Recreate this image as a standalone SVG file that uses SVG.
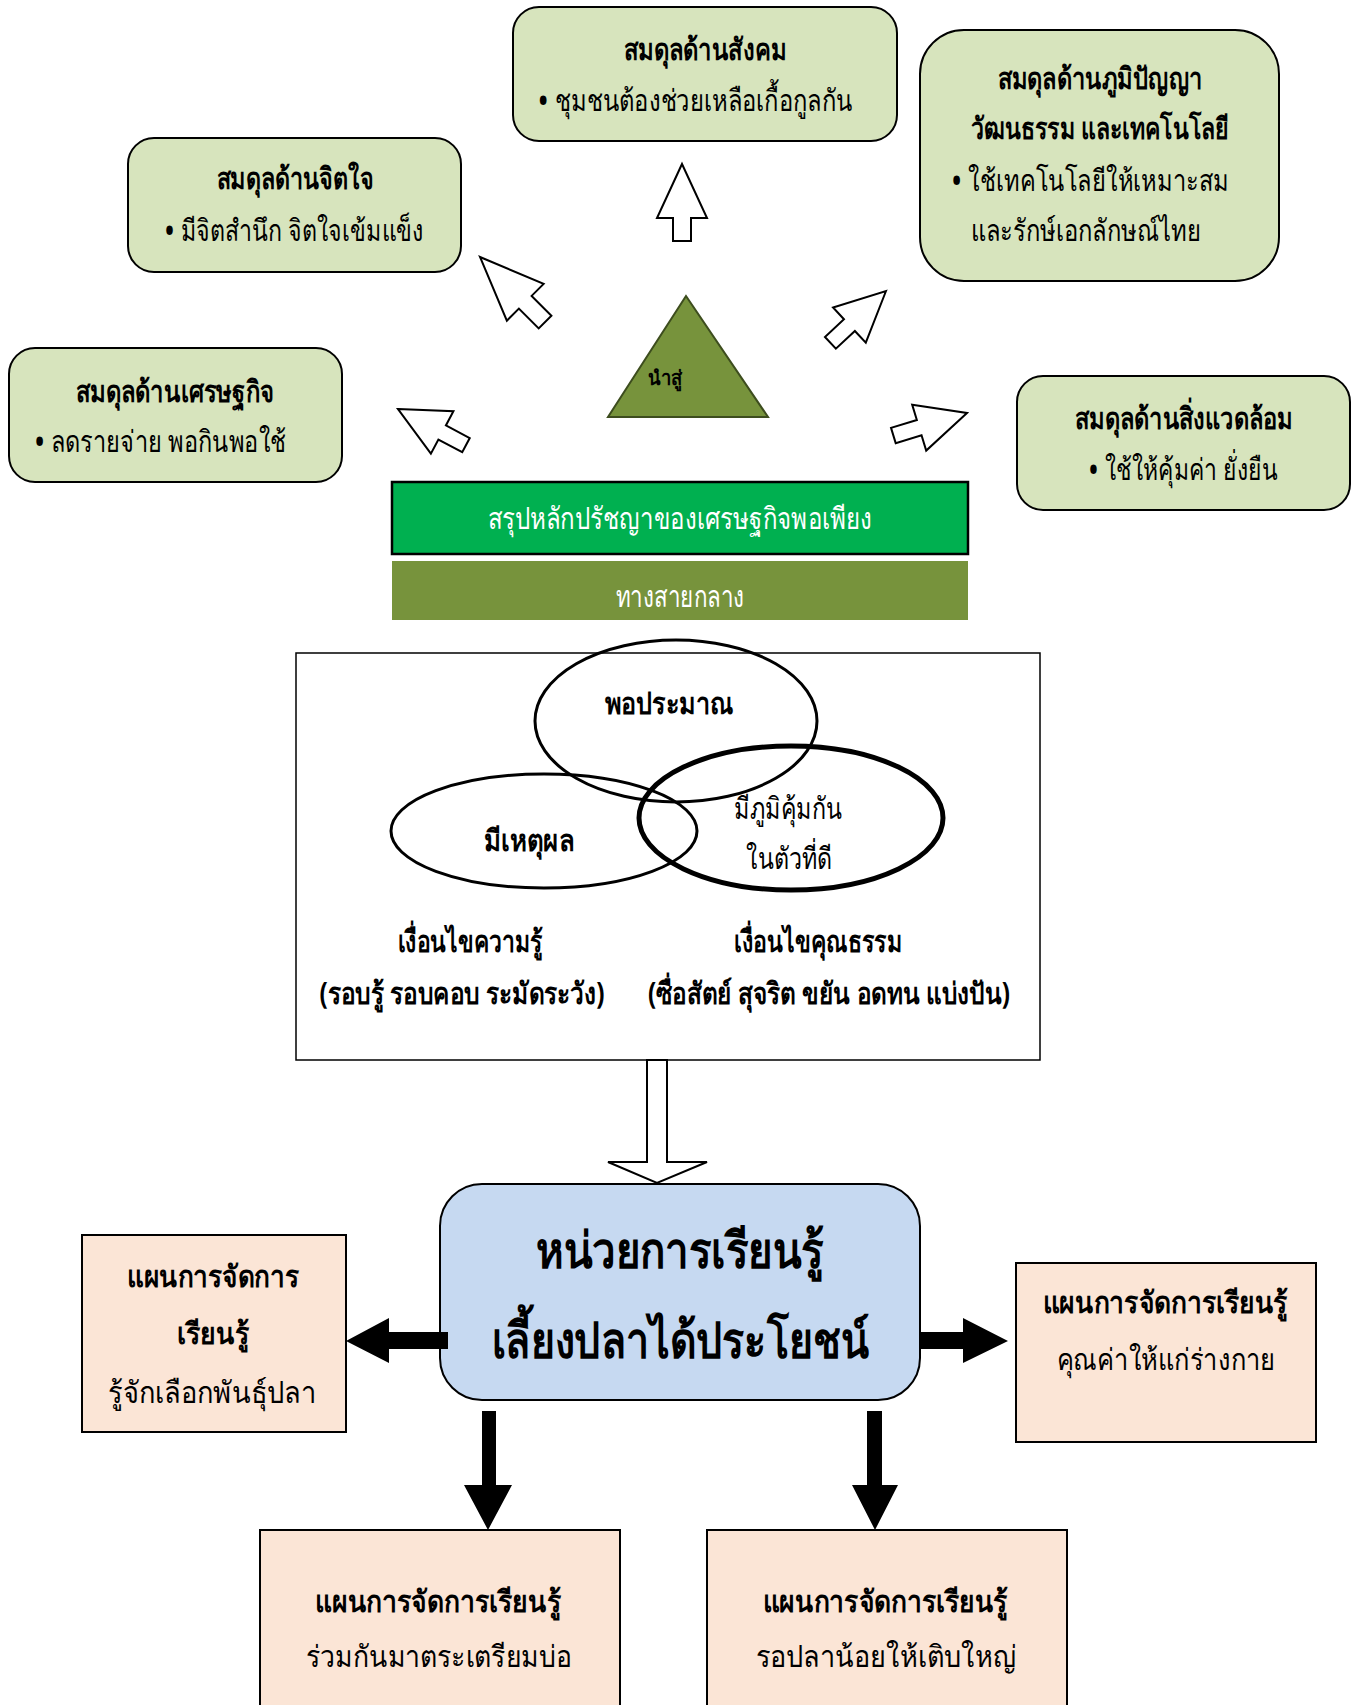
<svg xmlns="http://www.w3.org/2000/svg" width="1354" height="1705" viewBox="0 0 1354 1705">
<style>
text{font-family:'Noto Sans','DejaVu Sans',sans-serif;fill:#000;}
.t{font-size:30px;text-anchor:middle;}
.b{font-weight:bold;}
.w{fill:#fff;}
.bu{font-size:38px;}
.gbox{fill:#d7e4bd;stroke:#000;stroke-width:2;}
.pbox{fill:#fbe5d6;stroke:#000;stroke-width:2;}
.hol{fill:#fff;stroke:#000;stroke-width:2;stroke-linejoin:miter;}
.blk{fill:#000;stroke:none;}
.ell{fill:none;stroke:#000;stroke-width:3;}
</style>
<rect width="1354" height="1705" fill="#fff"/>

<g id="node-social">
<rect class="gbox" x="513" y="7" width="384" height="134" rx="26"/>
<text class="t b" x="705" y="60" textLength="163" lengthAdjust="spacingAndGlyphs">สมดุลด้านสังคม</text>
<text class="t" x="695" y="111" textLength="315" lengthAdjust="spacingAndGlyphs"><tspan class="bu" dy="3">•</tspan><tspan dy="-3"> ชุมชนต้องช่วยเหลือเกื้อกูลกัน</tspan></text>
</g>

<g id="node-wisdom">
<rect class="gbox" x="920" y="30" width="359" height="251" rx="44"/>
<text class="t b" x="1100" y="89" textLength="205" lengthAdjust="spacingAndGlyphs">สมดุลด้านภูมิปัญญา</text>
<text class="t b" x="1100" y="139" textLength="258" lengthAdjust="spacingAndGlyphs">วัฒนธรรม และเทคโนโลยี</text>
<text class="t" x="1090" y="191" textLength="278" lengthAdjust="spacingAndGlyphs"><tspan class="bu" dy="3">•</tspan><tspan dy="-3"> ใช้เทคโนโลยีให้เหมาะสม</tspan></text>
<text style="font-size:30px" x="971" y="241" textLength="230" lengthAdjust="spacingAndGlyphs">และรักษ์เอกลักษณ์ไทย</text>
</g>

<g id="node-mind">
<rect class="gbox" x="128" y="138" width="333" height="134" rx="26"/>
<text class="t b" x="295" y="189" textLength="157" lengthAdjust="spacingAndGlyphs">สมดุลด้านจิตใจ</text>
<text class="t" x="294" y="241" textLength="260" lengthAdjust="spacingAndGlyphs"><tspan class="bu" dy="3">•</tspan><tspan dy="-3"> มีจิตสำนึก จิตใจเข้มแข็ง</tspan></text>
</g>

<g id="node-economy">
<rect class="gbox" x="9" y="348" width="333" height="134" rx="26"/>
<text class="t b" x="175" y="402" textLength="199" lengthAdjust="spacingAndGlyphs">สมดุลด้านเศรษฐกิจ</text>
<text class="t" x="160" y="452" textLength="252" lengthAdjust="spacingAndGlyphs"><tspan class="bu" dy="3">•</tspan><tspan dy="-3"> ลดรายจ่าย พอกินพอใช้</tspan></text>
</g>

<g id="node-environment">
<rect class="gbox" x="1017" y="376" width="333" height="134" rx="26"/>
<text class="t b" x="1184" y="429" textLength="218" lengthAdjust="spacingAndGlyphs">สมดุลด้านสิ่งแวดล้อม</text>
<text class="t" x="1183" y="480" textLength="190" lengthAdjust="spacingAndGlyphs"><tspan class="bu" dy="3">•</tspan><tspan dy="-3"> ใช้ให้คุ้มค่า ยั่งยืน</tspan></text>
</g>

<g id="node-leadsto">
<polygon points="686,296 608,417 768,417" fill="#77933c" stroke="#3d4d1e" stroke-width="2"/>
<text class="b" style="font-size:20px;text-anchor:middle" x="665" y="385" textLength="34" lengthAdjust="spacingAndGlyphs">นำสู่</text>
</g>

<g id="node-summary">
<rect x="392" y="482" width="576" height="72" fill="#00b050" stroke="#000" stroke-width="2.5"/>
<text class="t w" x="680" y="529" textLength="385" lengthAdjust="spacingAndGlyphs">สรุปหลักปรัชญาของเศรษฐกิจพอเพียง</text>
</g>

<g id="node-middle-way">
<rect x="392" y="561" width="576" height="59" fill="#77933c"/>
<text class="t w" x="680" y="607" textLength="129" lengthAdjust="spacingAndGlyphs">ทางสายกลาง</text>
</g>

<g id="node-principles">
<rect x="296" y="653" width="744" height="407" fill="#fff" stroke="#000" stroke-width="1.5"/>
<ellipse class="ell" cx="676" cy="721" rx="141" ry="81"/>
<ellipse class="ell" cx="544" cy="831" rx="153" ry="57"/>
<ellipse class="ell" cx="791" cy="818" rx="152" ry="72" style="stroke-width:5"/>
<text class="t b" x="669" y="714" textLength="129" lengthAdjust="spacingAndGlyphs">พอประมาณ</text>
<text class="t b" x="529" y="851" textLength="90" lengthAdjust="spacingAndGlyphs">มีเหตุผล</text>
<text class="t" x="788" y="819" textLength="108" lengthAdjust="spacingAndGlyphs">มีภูมิคุ้มกัน</text>
<text class="t" x="789" y="869" textLength="86" lengthAdjust="spacingAndGlyphs">ในตัวที่ดี</text>
<text class="t b" x="470" y="952" textLength="145" lengthAdjust="spacingAndGlyphs">เงื่อนไขความรู้</text>
<text class="t b" x="462" y="1004" textLength="285" lengthAdjust="spacingAndGlyphs">(รอบรู้ รอบคอบ ระมัดระวัง)</text>
<text class="t b" x="818" y="952" textLength="168" lengthAdjust="spacingAndGlyphs">เงื่อนไขคุณธรรม</text>
<text class="t b" x="829" y="1004" textLength="362" lengthAdjust="spacingAndGlyphs">(ซื่อสัตย์ สุจริต ขยัน อดทน แบ่งปัน)</text>
</g>

<g id="node-unit">
<rect x="440" y="1184" width="480" height="216" rx="42" fill="#c6d9f1" stroke="#000" stroke-width="2"/>
<text class="b" style="font-size:50px;text-anchor:middle" x="680" y="1268" textLength="288" lengthAdjust="spacingAndGlyphs">หน่วยการเรียนรู้</text>
<text class="b" style="font-size:50px;text-anchor:middle" x="680" y="1358" textLength="377" lengthAdjust="spacingAndGlyphs">เลี้ยงปลาได้ประโยชน์</text>
</g>

<g id="node-plan-left">
<rect class="pbox" x="82" y="1235" width="264" height="197"/>
<text class="t b" x="213" y="1287" textLength="172" lengthAdjust="spacingAndGlyphs">แผนการจัดการ</text>
<text class="t b" x="213" y="1344" textLength="72" lengthAdjust="spacingAndGlyphs">เรียนรู้</text>
<text class="t" x="212" y="1403" textLength="208" lengthAdjust="spacingAndGlyphs">รู้จักเลือกพันธุ์ปลา</text>
</g>

<g id="node-plan-right">
<rect class="pbox" x="1016" y="1263" width="300" height="179"/>
<text class="t b" x="1165" y="1313" textLength="245" lengthAdjust="spacingAndGlyphs">แผนการจัดการเรียนรู้</text>
<text class="t" x="1166" y="1370" textLength="219" lengthAdjust="spacingAndGlyphs">คุณค่าให้แก่ร่างกาย</text>
</g>

<g id="node-plan-bottom-left">
<rect class="pbox" x="260" y="1530" width="360" height="185"/>
<text class="t b" x="438" y="1612" textLength="246" lengthAdjust="spacingAndGlyphs">แผนการจัดการเรียนรู้</text>
<text class="t" x="439" y="1667" textLength="266" lengthAdjust="spacingAndGlyphs">ร่วมกันมาตระเตรียมบ่อ</text>
</g>

<g id="node-plan-bottom-right">
<rect class="pbox" x="707" y="1530" width="360" height="185"/>
<text class="t b" x="885" y="1612" textLength="245" lengthAdjust="spacingAndGlyphs">แผนการจัดการเรียนรู้</text>
<text class="t" x="886" y="1667" textLength="261" lengthAdjust="spacingAndGlyphs">รอปลาน้อยให้เติบใหญ่</text>
</g>

<g id="connectors">
<path class="hol" d="M682,164 L707,218 L691,218 L691,241 L673,241 L673,218 L657,218 Z"/>
<path class="hol" transform="translate(480,257) rotate(-45)" d="M0,0 L26,64 L9,64 L9,92 L-9,92 L-9,64 L-26,64 Z"/>
<path class="hol" transform="translate(398,409) rotate(-62)" d="M0,0 L24,50 L8,50 L8,77 L-8,77 L-8,50 L-24,50 Z"/>
<path class="hol" transform="translate(886,291) rotate(47)" d="M0,0 L24,50 L8,50 L8,76 L-8,76 L-8,50 L-24,50 Z"/>
<path class="hol" transform="translate(967,413) rotate(73)" d="M0,0 L24,50 L8,50 L8,77 L-8,77 L-8,50 L-24,50 Z"/>
<path class="hol" d="M647,1060 L667,1060 L667,1162 L707,1162 L657,1183 L608,1162 L647,1162 Z"/>
<polygon class="blk" points="346,1341 389,1318 389,1332 448,1332 448,1349 389,1349 389,1363"/>
<polygon class="blk" points="920,1332 963,1332 963,1318 1008,1341 963,1363 963,1349 920,1349"/>
<polygon class="blk" points="482,1411 496,1411 496,1485 512,1485 488,1530 464,1485 482,1485"/>
<polygon class="blk" points="867,1411 882,1411 882,1485 898,1485 875,1530 852,1485 867,1485"/>
</g>
</svg>
